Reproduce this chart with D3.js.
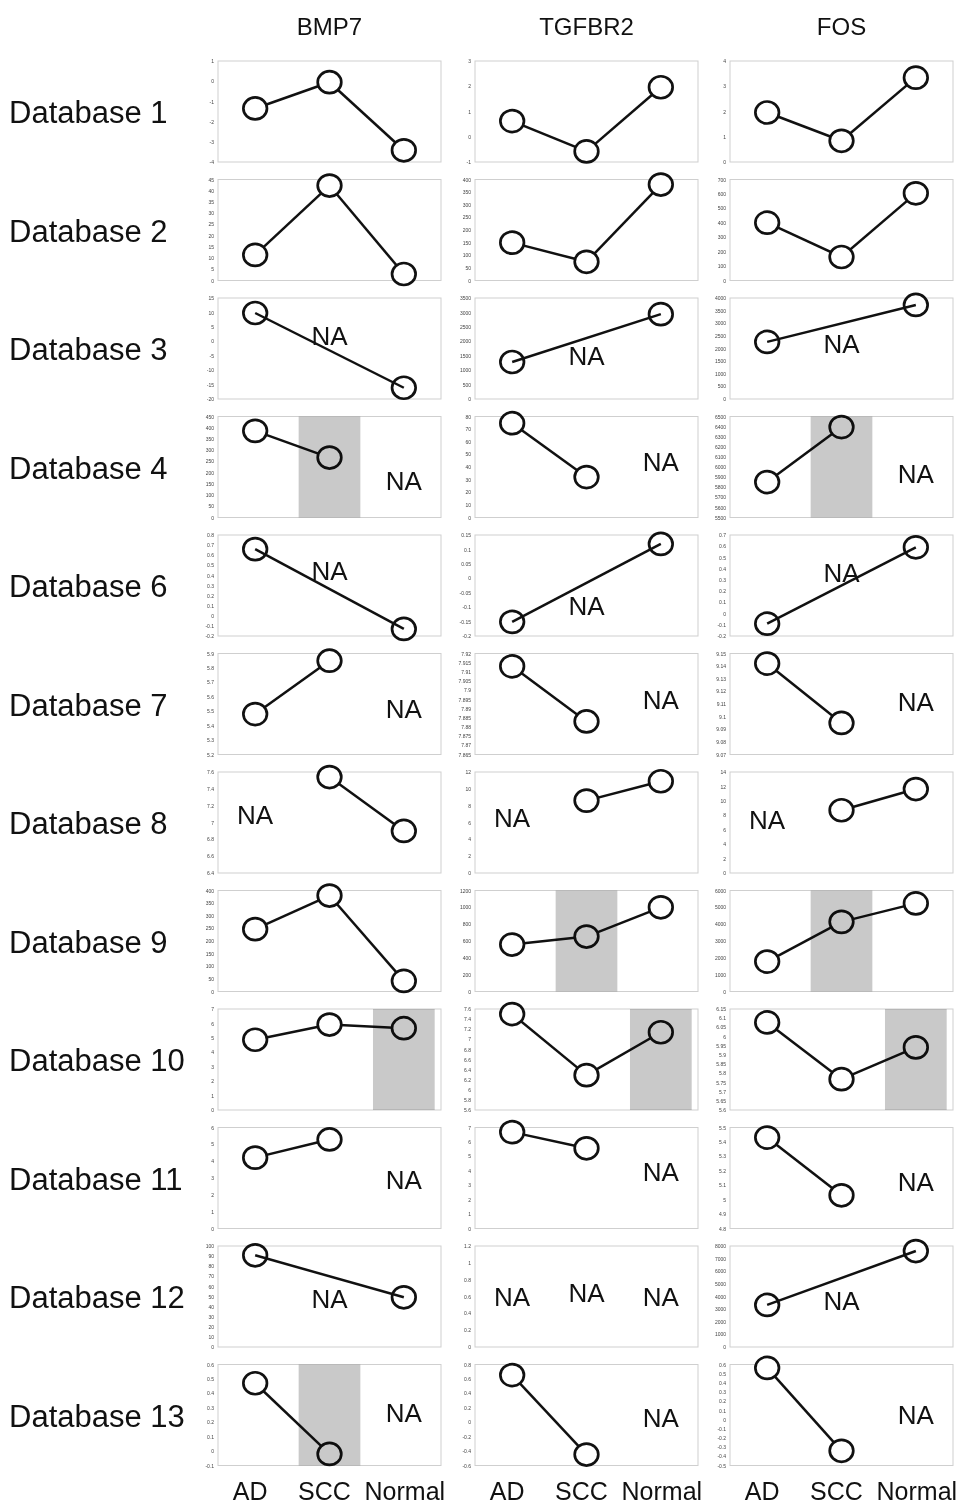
<!DOCTYPE html>
<html><head><meta charset="utf-8">
<script src="https://cdn.jsdelivr.net/npm/d3@7"></script>
<style>
body{margin:0;background:#fff;}
text{font-family:"Liberation Sans", Arial, Helvetica, sans-serif;}
</style>
</head><body>
<svg id="chart" width="966" height="1507"></svg>
<script>
// ---------------- DATA ----------------
const genes = ["BMP7", "TGFBR2", "FOS"];
const groups = ["AD", "SCC", "Normal"];
const databases = ["Database 1","Database 2","Database 3","Database 4","Database 6","Database 7",
  "Database 8","Database 9","Database 10","Database 11","Database 12","Database 13"];

// values per database: [AD, SCC, Normal], null = NA
const bmp7Values = [
  [-1.35, -0.05, -3.42],
  [11.4, 42.3, 2.9],
  [9.8, null, -16.1],
  [386, 267, null],
  [0.66, null, -0.13],
  [5.48, 5.85, null],
  [null, 7.54, 6.9],
  [247, 380, 42],
  [4.87, 5.92, 5.67],
  [4.21, 5.29, null],
  [90.8, null, 49.2],
  [0.47, -0.02, null]
];
const tgfbr2Values = [
  [0.62, -0.58, 1.96],
  [150, 74, 380],
  [1283, null, 2940],
  [74.7, 32, null],
  [-0.151, null, 0.119],
  [7.913, 7.883, null],
  [null, 8.6, 10.9],
  [558, 653, 1000],
  [7.5, 6.29, 7.14],
  [6.68, 5.56, null],
  [null, null, null],
  [0.653, -0.448, null]
];
const fosValues = [
  [1.96, 0.84, 3.34],
  [401, 163, 604],
  [2261, null, 3725],
  [5851, 6395, null],
  [-0.09, null, 0.59],
  [9.142, 9.095, null],
  [null, 8.7, 11.64],
  [1776, 4137, 5234],
  [6.077, 5.768, 5.941],
  [5.43, 5.03, null],
  [3333, null, 7600],
  [0.563, -0.34, null]
];

// tick labels of each panel's value axis
const bmp7Ticks = [
  [1, 0, -1, -2, -3, -4],
  [45, 40, 35, 30, 25, 20, 15, 10, 5, 0],
  [15, 10, 5, 0, -5, -10, -15, -20],
  [450, 400, 350, 300, 250, 200, 150, 100, 50, 0],
  [0.8, 0.7, 0.6, 0.5, 0.4, 0.3, 0.2, 0.1, 0, -0.1, -0.2],
  [5.9, 5.8, 5.7, 5.6, 5.5, 5.4, 5.3, 5.2],
  [7.6, 7.4, 7.2, 7, 6.8, 6.6, 6.4],
  [400, 350, 300, 250, 200, 150, 100, 50, 0],
  [7, 6, 5, 4, 3, 2, 1, 0],
  [6, 5, 4, 3, 2, 1, 0],
  [100, 90, 80, 70, 60, 50, 40, 30, 20, 10, 0],
  [0.6, 0.5, 0.4, 0.3, 0.2, 0.1, 0, -0.1]
];
const tgfbr2Ticks = [
  [3, 2, 1, 0, -1],
  [400, 350, 300, 250, 200, 150, 100, 50, 0],
  [3500, 3000, 2500, 2000, 1500, 1000, 500, 0],
  [80, 70, 60, 50, 40, 30, 20, 10, 0],
  [0.15, 0.1, 0.05, 0, -0.05, -0.1, -0.15, -0.2],
  [7.92, 7.915, 7.91, 7.905, 7.9, 7.895, 7.89, 7.885, 7.88, 7.875, 7.87, 7.865],
  [12, 10, 8, 6, 4, 2, 0],
  [1200, 1000, 800, 600, 400, 200, 0],
  [7.6, 7.4, 7.2, 7, 6.8, 6.6, 6.4, 6.2, 6, 5.8, 5.6],
  [7, 6, 5, 4, 3, 2, 1, 0],
  [1.2, 1, 0.8, 0.6, 0.4, 0.2, 0],
  [0.8, 0.6, 0.4, 0.2, 0, -0.2, -0.4, -0.6]
];
const fosTicks = [
  [4, 3, 2, 1, 0],
  [700, 600, 500, 400, 300, 200, 100, 0],
  [4000, 3500, 3000, 2500, 2000, 1500, 1000, 500, 0],
  [6500, 6400, 6300, 6200, 6100, 6000, 5900, 5800, 5700, 5600, 5500],
  [0.7, 0.6, 0.5, 0.4, 0.3, 0.2, 0.1, 0, -0.1, -0.2],
  [9.15, 9.14, 9.13, 9.12, 9.11, 9.1, 9.09, 9.08, 9.07],
  [14, 12, 10, 8, 6, 4, 2, 0],
  [6000, 5000, 4000, 3000, 2000, 1000, 0],
  [6.15, 6.1, 6.05, 6, 5.95, 5.9, 5.85, 5.8, 5.75, 5.7, 5.65, 5.6],
  [5.5, 5.4, 5.3, 5.2, 5.1, 5, 4.9, 4.8],
  [8000, 7000, 6000, 5000, 4000, 3000, 2000, 1000, 0],
  [0.6, 0.5, 0.4, 0.3, 0.2, 0.1, 0, -0.1, -0.2, -0.3, -0.4, -0.5]
];

// grey highlighted group per panel
const bmp7Shaded   = [null, null, null, "SCC", null, null, null, null, "Normal", null, null, "SCC"];
const tgfbr2Shaded = [null, null, null, null, null, null, null, "SCC", "Normal", null, null, null];
const fosShaded    = [null, null, null, "SCC", null, null, null, "SCC", "Normal", null, null, null];

// "NA" annotations: [group, relative height within the value axis]
const bmp7NA = [[], [], [["SCC", 0.62]], [["Normal", 0.36]], [["SCC", 0.64]], [["Normal", 0.45]],
  [["AD", 0.57]], [], [], [["Normal", 0.48]], [["SCC", 0.48]], [["Normal", 0.52]]];
const tgfbr2NA = [[], [], [["SCC", 0.43]], [["Normal", 0.55]], [["SCC", 0.30]], [["Normal", 0.54]],
  [["AD", 0.54]], [], [], [["Normal", 0.56]], [["AD", 0.50], ["SCC", 0.53], ["Normal", 0.50]], [["Normal", 0.47]]];
const fosNA = [[], [], [["SCC", 0.54]], [["Normal", 0.43]], [["SCC", 0.62]], [["Normal", 0.52]],
  [["AD", 0.52]], [], [], [["Normal", 0.46]], [["SCC", 0.46]], [["Normal", 0.50]]];

// ---------------- LAYOUT ----------------
const values = [bmp7Values, tgfbr2Values, fosValues];
const ticks = [bmp7Ticks, tgfbr2Ticks, fosTicks];
const shaded = [bmp7Shaded, tgfbr2Shaded, fosShaded];
const naNotes = [bmp7NA, tgfbr2NA, fosNA];

const panelLeft = [218, 475, 730];
const panelW = 223;
const firstTop = 61, rowStep = 118.5, panelH = 101;

const svg = d3.select("#chart");
svg.append("rect").attr("width", 966).attr("height", 1507).attr("fill", "#fff");

// column headers
genes.forEach((g, c) => {
  svg.append("text")
    .attr("x", panelLeft[c] + panelW / 2)
    .attr("y", 26)
    .attr("text-anchor", "middle")
    .attr("dominant-baseline", "central")
    .attr("font-size", 24)
    .attr("fill", "#111")
    .text(g);
});

databases.forEach((db, r) => {
  const top = firstTop + r * rowStep;
  svg.append("text")
    .attr("x", 9)
    .attr("y", top + panelH / 2 + 1)
    .attr("dominant-baseline", "central")
    .attr("font-size", 31)
    .attr("fill", "#111")
    .text(db);

  genes.forEach((g, c) => {
    const left = panelLeft[c];
    const x = d3.scaleBand().domain(groups).range([left, left + panelW]);
    const tk = ticks[c][r];
    const dom = d3.extent(tk);
    const y = d3.scaleLinear().domain(dom).range([top + panelH, top]);
    const gp = svg.append("g");

    gp.append("rect")
      .attr("x", left).attr("y", top)
      .attr("width", panelW).attr("height", panelH)
      .attr("fill", "#fff")
      .attr("stroke", "#cfcfcf").attr("stroke-width", 1);

    const ax = gp.append("g")
      .attr("transform", `translate(${left},0)`)
      .call(d3.axisLeft(y).tickValues(tk).tickSize(0).tickPadding(4).tickFormat(v => String(v)));
    ax.select(".domain").remove();
    ax.selectAll("text").attr("font-size", 5).attr("fill", "#444")
      .attr("font-family", "Liberation Sans, Arial, sans-serif");

    const pts = groups.map((k, i) => ({ k, i, v: values[c][r][i] })).filter(d => d.v !== null);
    const cx = d => x(d.k) + x.bandwidth() / 2;
    const segs = [];
    for (let i = 1; i < pts.length; i++) segs.push([pts[i - 1], pts[i]]);

    const drawSeg = (s) => gp.append("line")
      .attr("x1", cx(s[0])).attr("y1", y(s[0].v))
      .attr("x2", cx(s[1])).attr("y2", y(s[1].v))
      .attr("stroke", "#111").attr("stroke-width", 2.5);

    segs.filter(s => s[1].i - s[0].i === 1).forEach(drawSeg);

    gp.selectAll("ellipse.pt").data(pts).enter().append("ellipse")
      .attr("class", "pt")
      .attr("cx", cx).attr("cy", d => y(d.v))
      .attr("rx", 11.8).attr("ry", 11)
      .attr("fill", "#fff").attr("stroke", "#111").attr("stroke-width", 2.7);

    segs.filter(s => s[1].i - s[0].i > 1).forEach(drawSeg);

    const sh = shaded[c][r];
    if (sh) {
      const bw = x.bandwidth();
      gp.append("rect")
        .attr("x", x(sh) + bw * 0.085).attr("y", top)
        .attr("width", bw * 0.83).attr("height", panelH)
        .attr("fill", "#c9c9c9")
        .style("mix-blend-mode", "multiply");
    }

    naNotes[c][r].forEach(([k, f]) => {
      gp.append("text")
        .attr("x", x(k) + x.bandwidth() / 2)
        .attr("y", y(dom[0] + f * (dom[1] - dom[0])))
        .attr("text-anchor", "middle")
        .attr("dominant-baseline", "central")
        .attr("font-size", 26)
        .attr("fill", "#111")
        .text("NA");
    });
  });
});

// bottom group labels
genes.forEach((g, c) => {
  const x = d3.scaleBand().domain(groups).range([panelLeft[c], panelLeft[c] + panelW]);
  groups.forEach(k => {
    svg.append("text")
      .attr("x", x(k) + x.bandwidth() / 2 - (k === "Normal" ? -1 : 5))
      .attr("y", 1491)
      .attr("text-anchor", "middle")
      .attr("dominant-baseline", "central")
      .attr("font-size", 25)
      .attr("fill", "#111")
      .text(k);
  });
});
</script>
</body></html>
